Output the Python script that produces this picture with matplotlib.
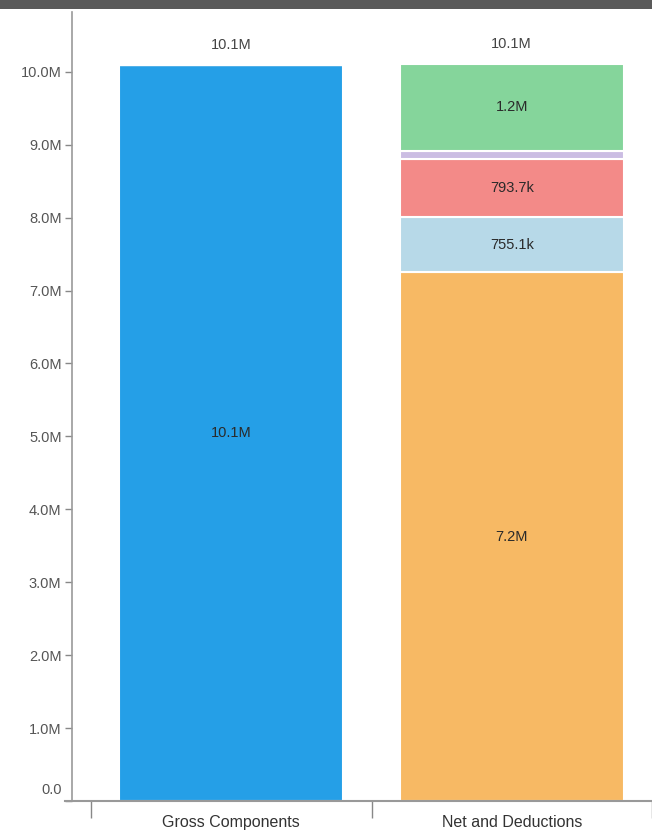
import matplotlib
matplotlib.use("Agg")
import matplotlib.pyplot as plt
import matplotlib.transforms as mtransforms
from matplotlib.lines import Line2D
from matplotlib.patches import Rectangle

categories = ["Gross Components", "Net and Deductions"]
# stacked series (bottom -> top)
series_names = ["Gross", "Net", "Deduction A", "Deduction B", "Deduction C", "Deduction D"]
gross_values = [10.1e6, 0]
net_values = [0, 7.25e6]
ded_a_values = [0, 0.7551e6]
ded_b_values = [0, 0.7937e6]
ded_c_values = [0, 0.12e6]
ded_d_values = [0, 1.19e6]
segment_labels = [["10.1M", ""], ["", "7.2M"], ["", "755.1k"], ["", "793.7k"], ["", ""], ["", "1.2M"]]
total_labels = ["10.1M", "10.1M"]
colors = ["#259fe7", "#f7b964", "#b7d9e8", "#f38a88", "#cbbde3", "#85d59b"]
y_ticks = [i * 1e6 for i in range(11)]
y_tick_labels = ["0.0"] + [f"{i}.0M" for i in range(1, 11)]

plt.rcParams["font.family"] = ["Liberation Sans", "DejaVu Sans"]

fig = plt.figure(figsize=(6.52, 8.31), dpi=100)
ax = fig.add_axes([72/652, 30/831, 1 - 72/652, (801-12)/831])

# dark top band
fig.patches.append(Rectangle((0, 1 - 9/831), 1, 9/831, transform=fig.transFigure,
                             facecolor="#5a5a5a", edgecolor="none", zorder=0))

x = [0, 1]
all_series = [gross_values, net_values, ded_a_values, ded_b_values, ded_c_values, ded_d_values]
bottoms = [0, 0]
for vals, col, labs in zip(all_series, colors, segment_labels):
    ax.bar(x, vals, width=0.8, bottom=bottoms, color=col, edgecolor="white", linewidth=1.5)
    for xi, v, b, lab in zip(x, vals, bottoms, labs):
        if v > 0 and lab:
            ax.text(xi, b + v / 2, lab, ha="center", va="center", fontsize=10.5, color="#2a2a2a")
    bottoms = [b + v for b, v in zip(bottoms, vals)]

for xi, tot, lab in zip(x, bottoms, total_labels):
    ax.annotate(lab, (xi, tot), xytext=(0, 20), textcoords="offset pixels",
                ha="center", va="center", fontsize=10.5, color="#444444")

ax.set_xlim(-0.5 - 19/280.5, 1.5)
ax.set_ylim(0, 10.82e6)

ax.set_yticks(y_ticks)
ax.set_yticklabels(y_tick_labels, fontsize=10.5, color="#555555")
ax.tick_params(axis="y", length=5, color="#888888", pad=2.5, width=1)

ax.set_xticks([-0.5, 0.5, 1.5])
ax.set_xticklabels([])
ax.set_xticks(x, minor=True)
ax.set_xticklabels(categories, minor=True, fontsize=11.5, color="#333333")
ax.tick_params(axis="x", which="major", length=12, color="#888888", width=1)
ax.tick_params(axis="x", which="minor", length=0, pad=10)

# nudge the 0.0 label up
lbl0 = ax.get_yticklabels()[0]
lbl0.set_transform(lbl0.get_transform() + mtransforms.ScaledTranslation(0, 13/100, fig.dpi_scale_trans))

for s in ["top", "right", "bottom"]:
    ax.spines[s].set_visible(False)
ax.spines["left"].set_color("#999999")
ax.spines["left"].set_linewidth(1.2)

ax.add_line(Line2D([-7/580, 1], [0, 0], transform=ax.transAxes, color="#999999",
                   linewidth=1.5, clip_on=False))

fig.savefig("out.png", dpi=100)
